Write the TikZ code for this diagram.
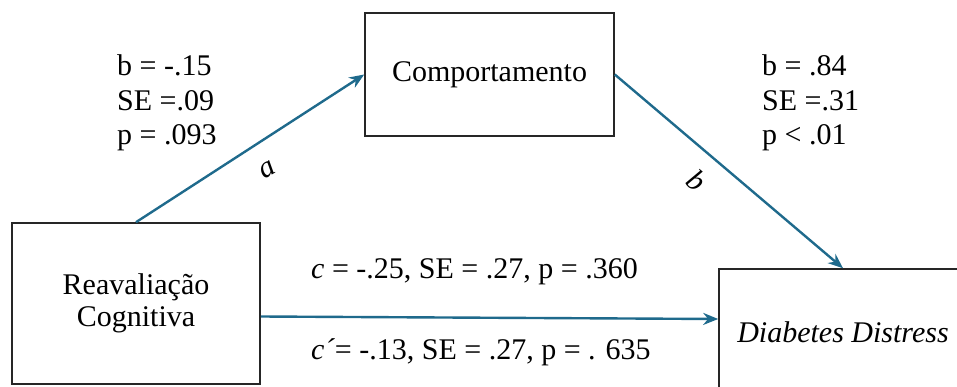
\documentclass[tikz,border=0pt]{standalone}
\usepackage{fontspec}
\setmainfont{Liberation Serif}
\usetikzlibrary{arrows.meta}
\definecolor{arrowblue}{HTML}{1F6A8C}
\tikzset{
  box/.style={draw=black!85, line width=1.6pt, inner sep=0pt, align=center, font=\fontsize{30}{32}\selectfont},
  conn/.style={draw=arrowblue, line width=2.4pt, -{Stealth[length=15pt,width=12pt]}},
  stat/.style={anchor=west, align=left, inner sep=0pt, font=\fontsize{30}{34.5}\selectfont},
  lab/.style={inner sep=0pt, font=\fontsize{30}{32}\selectfont}
}
\begin{document}
\begin{tikzpicture}[x=1pt,y=-1pt]
\clip (0,0) rectangle (957,387);
\useasboundingbox (0,0) rectangle (957,387);
\node[box, minimum width=249pt, minimum height=123pt] (comp) at (489.5,74.5) {Comportamento};
\node[box, minimum width=248pt, minimum height=161pt] (rc) at (136,303.5) {Reavaliação\\Cognitiva};
\node[box, minimum width=248pt, minimum height=126pt, font=\fontsize{30}{32}\selectfont\itshape] (dd) at (843,332) {Diabetes Distress};
\draw[conn] (rc.north) -- (comp.west);
\draw[conn] (comp.east) -- (dd.north);
\draw[conn] ([yshift=-13pt]rc.east) -- ([yshift=13pt]dd.west);
\node[stat] (s1) at (117,103) {b = -.15\\SE =.09\\p = .093};
\node[stat] (s2) at (762,103) {b = .84\\SE =.31\\p < .01};
\node[lab, rotate=30] (la) at (268,170) {\textit{a}};
\node[lab, rotate=-40] (lb) at (697,180) {\textit{b}};
\node[lab, anchor=west] (lc) at (311,272) {\textit{c} = -.25, SE = .27, p = .360};
\node[lab, anchor=west] (lc2) at (311,352) {\textit{c´}= -.13, SE = .27, p = . 635};
\end{tikzpicture}
\end{document}
